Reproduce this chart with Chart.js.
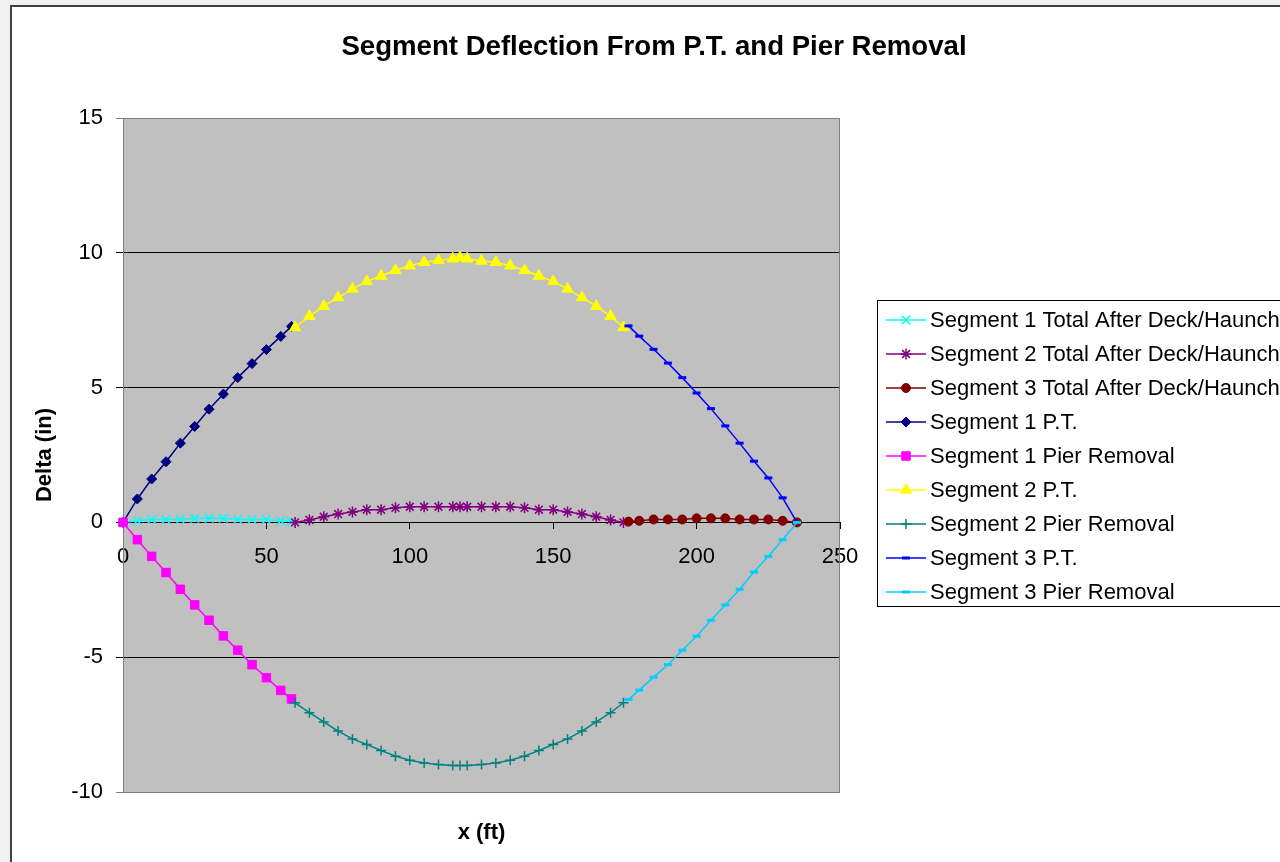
<!DOCTYPE html>
<html>
<head>
<meta charset="utf-8">
<script src="https://cdn.jsdelivr.net/npm/chart.js@4.4.0/dist/chart.umd.min.js"></script>
<style>
  html, body { margin: 0; padding: 0; background: #f0f0f0; overflow: hidden; width: 1280px; height: 862px; }
  #frame { position: absolute; left: 10px; top: 5px; width: 1320px; height: 900px; background: #fff; border: 2px solid #404040; box-sizing: border-box; }
  #c { position: absolute; left: 0; top: 0; }
</style>
</head>
<body>
<div id="frame"></div>
<canvas id="c" width="1280" height="862"></canvas>
<script>
// ---- Data ----
const chartTitle = 'Segment Deflection From P.T. and Pier Removal';
const xTitle = 'x (ft)';
const yTitle = 'Delta (in)';

const seg1X = [0, 5, 10, 15, 20, 25, 30, 35, 40, 45, 50, 55, 58.75];
const seg2X = [60, 65, 70, 75, 80, 85, 90, 95, 100, 105, 110, 115, 117.5, 120, 125, 130, 135, 140, 145, 150, 155, 160, 165, 170, 174.5];
const seg3X = [176.25, 180, 185, 190, 195, 200, 205, 210, 215, 220, 225, 230, 235];

const seg1Total = [0, 0.06, 0.11, 0.11, 0.11, 0.15, 0.15, 0.15, 0.11, 0.11, 0.11, 0.06, 0.03];
const seg2Total = [0, 0.09, 0.21, 0.31, 0.39, 0.47, 0.47, 0.54, 0.58, 0.58, 0.58, 0.58, 0.58, 0.58, 0.58, 0.58, 0.58, 0.54, 0.47, 0.47, 0.39, 0.31, 0.21, 0.09, 0];
const seg3Total = [0.03, 0.06, 0.11, 0.11, 0.11, 0.15, 0.15, 0.15, 0.11, 0.11, 0.11, 0.06, 0];
const seg1PT = [0, 0.87, 1.61, 2.25, 2.94, 3.56, 4.20, 4.76, 5.37, 5.89, 6.41, 6.90, 7.27];
const seg1Pier = [0, -0.64, -1.26, -1.86, -2.48, -3.06, -3.63, -4.21, -4.74, -5.28, -5.76, -6.23, -6.55];
const seg2PT = [7.23, 7.65, 8.02, 8.34, 8.66, 8.94, 9.14, 9.35, 9.52, 9.65, 9.72, 9.78, 9.83, 9.78, 9.70, 9.65, 9.52, 9.35, 9.14, 8.94, 8.66, 8.34, 8.02, 7.65, 7.23];
const seg2Pier = [-6.69, -7.06, -7.40, -7.74, -8.03, -8.24, -8.46, -8.67, -8.82, -8.92, -8.98, -9.02, -9.02, -9.02, -8.98, -8.92, -8.82, -8.67, -8.46, -8.24, -8.03, -7.74, -7.40, -7.06, -6.69];
const seg3PT = [7.29, 6.91, 6.42, 5.91, 5.37, 4.80, 4.22, 3.58, 2.94, 2.27, 1.65, 0.91, 0];
const seg3Pier = [-6.57, -6.22, -5.74, -5.28, -4.74, -4.22, -3.63, -3.06, -2.48, -1.84, -1.26, -0.64, 0];

const seriesNames = [
  'Segment 1 Total After Deck/Haunch',
  'Segment 2 Total After Deck/Haunch',
  'Segment 3 Total After Deck/Haunch',
  'Segment 1 P.T.',
  'Segment 1 Pier Removal',
  'Segment 2 P.T.',
  'Segment 2 Pier Removal',
  'Segment 3 P.T.',
  'Segment 3 Pier Removal'
];
const xTicks = [0, 50, 100, 150, 200, 250];
const yTicks = [-10, -5, 0, 5, 10, 15];

// ---- Styles ----
const FONT = '"Liberation Sans", Arial, Helvetica, sans-serif';
const styles = [
  { color: '#00FFFF', pointStyle: 'crossRot', radius: 6, pbw: 1.5 },
  { color: '#800080', pointStyle: 'star', radius: 5.5, pbw: 1.5 },
  { color: '#800000', pointStyle: 'circle', radius: 4.5, pbw: 1 },
  { color: '#000080', pointStyle: 'rectRot', radius: 5, pbw: 1 },
  { color: '#FF00FF', pointStyle: 'rect', radius: 6, pbw: 1 },
  { color: '#FFFF00', pointStyle: 'triangle', radius: 6.5, pbw: 1 },
  { color: '#008080', pointStyle: 'cross', radius: 5, pbw: 1.5 },
  { color: '#0000FF', pointStyle: 'line', radius: 4, pbw: 3 },
  { color: '#00CCFF', pointStyle: 'line', radius: 4, pbw: 3 }
];
const seriesX = [seg1X, seg2X, seg3X, seg1X, seg1X, seg2X, seg2X, seg3X, seg3X];
const seriesY = [seg1Total, seg2Total, seg3Total, seg1PT, seg1Pier, seg2PT, seg2Pier, seg3PT, seg3Pier];

const datasets = seriesNames.map((name, i) => ({
  label: name,
  data: seriesX[i].map((x, k) => ({ x: x, y: seriesY[i][k] })),
  borderColor: styles[i].color,
  backgroundColor: styles[i].color,
  borderWidth: 1.5,
  pointStyle: styles[i].pointStyle,
  pointRadius: styles[i].radius,
  pointBorderWidth: styles[i].pbw,
  pointBackgroundColor: styles[i].color,
  pointBorderColor: styles[i].color,
  tension: 0,
  fill: false,
  clip: false,
  order: seriesNames.length - i
}));

const PLOT = { left: 123, top: 118, right: 840, bottom: 792 };

const decoPlugin = {
  id: 'deco',
  beforeDraw(chart) {
    const { ctx, chartArea: a } = chart;
    ctx.save();
    ctx.fillStyle = '#C0C0C0';
    ctx.fillRect(a.left, a.top, a.right - a.left, a.bottom - a.top);
    ctx.restore();
  },
  beforeDatasetsDraw(chart) {
    const { ctx, chartArea: a } = chart;
    ctx.save();
    ctx.strokeStyle = '#808080';
    ctx.lineWidth = 1;
    ctx.strokeRect(a.left + 0.5, a.top + 0.5, a.right - a.left - 1, a.bottom - a.top);
    const y0 = Math.round(chart.scales.y.getPixelForValue(0)) + 0.5;
    ctx.strokeStyle = '#000';
    ctx.beginPath(); ctx.moveTo(a.left, y0); ctx.lineTo(a.right, y0); ctx.stroke();
    ctx.restore();
  },
  afterDraw(chart) {
    const { ctx, chartArea: a } = chart;
    ctx.save();
    // Title
    ctx.fillStyle = '#000';
    ctx.font = 'bold 27.6px ' + FONT;
    ctx.textAlign = 'center';
    ctx.textBaseline = 'middle';
    ctx.fillText(chartTitle, 654, 47);
    // X title
    ctx.font = 'bold 22px ' + FONT;
    ctx.fillText(xTitle, (a.left + a.right) / 2, 833);
    // Legend
    const lx = 877.5, ly = 300.5;
    ctx.strokeStyle = '#000';
    ctx.lineWidth = 1;
    ctx.strokeRect(lx, ly, 600, 306);
    ctx.font = '22px ' + FONT;
    ctx.textAlign = 'left';
    chart.data.datasets.forEach((ds, i) => {
      const y = 320 + i * 34;
      ctx.strokeStyle = ds.borderColor;
      ctx.lineWidth = 1.5;
      ctx.beginPath(); ctx.moveTo(886, y); ctx.lineTo(926, y); ctx.stroke();
      ctx.fillStyle = ds.pointBackgroundColor;
      ctx.strokeStyle = ds.pointBorderColor;
      ctx.lineWidth = ds.pointBorderWidth;
      if (Chart.helpers && Chart.helpers.drawPoint) {
        Chart.helpers.drawPoint(ctx, { pointStyle: ds.pointStyle, radius: ds.pointRadius, rotation: 0, borderWidth: ds.pointBorderWidth }, 906, y);
      }
      ctx.fillStyle = '#000';
      ctx.fillText(ds.label, 930, y + 1);
    });
    ctx.restore();
  }
};

new Chart(document.getElementById('c'), {
  type: 'line',
  data: { datasets: datasets },
  plugins: [decoPlugin],
  options: {
    responsive: false,
    animation: false,
    events: [],
    layout: { padding: { left: 11, top: PLOT.top, right: 1280 - PLOT.right, bottom: 862 - PLOT.bottom } },
    plugins: { legend: { display: false }, title: { display: false }, tooltip: { enabled: false } },
    scales: {
      x: {
        type: 'linear',
        position: { y: 0 },
        min: xTicks[0], max: xTicks[xTicks.length - 1],
        afterBuildTicks: s => { s.ticks = xTicks.map(v => ({ value: v })); },
        grid: { drawOnChartArea: false, drawTicks: true, tickLength: 6, color: '#000', tickColor: '#000' },
        border: { display: true, color: '#000', width: 1 },
        ticks: { color: '#000', font: { family: FONT, size: 22 }, padding: 15, maxRotation: 0, autoSkip: false }
      },
      y: {
        type: 'linear',
        position: 'left',
        min: yTicks[0], max: yTicks[yTicks.length - 1],
        afterBuildTicks: s => { s.ticks = yTicks.map(v => ({ value: v })); },
        afterFit: s => { s.width = PLOT.left - 11; },
        grid: {
          drawOnChartArea: true, drawTicks: true, tickLength: 7,
          color: c => (c.tick && (c.tick.value === 15 || c.tick.value === -10)) ? '#808080' : '#000',
          lineWidth: 1
        },
        border: { display: true, color: '#808080', width: 1 },
        ticks: { color: '#000', font: { family: FONT, size: 22 }, padding: 13, autoSkip: false },
        title: { display: true, text: yTitle, color: '#000', font: { family: FONT, size: 22, weight: 'bold' }, padding: { top: 21, bottom: 0 } }
      }
    }
  }
});
</script>
</body>
</html>
